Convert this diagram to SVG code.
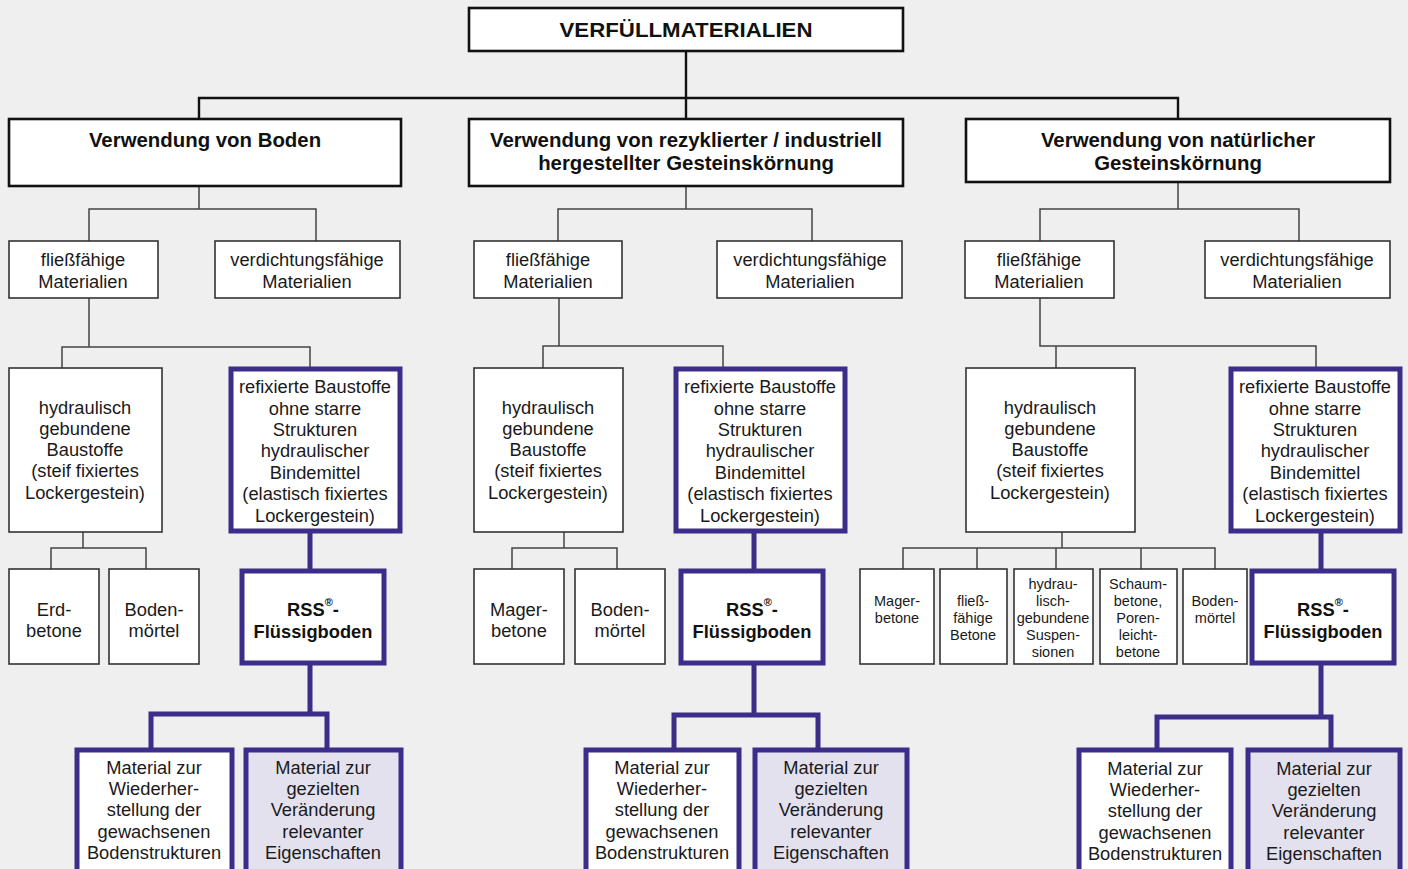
<svg xmlns="http://www.w3.org/2000/svg" width="1408" height="869" viewBox="0 0 1408 869">
<style>
text{font-family:"Liberation Sans",Arial,sans-serif;fill:#1a1a1a;text-anchor:middle;dominant-baseline:central}
.t{font-size:18.3px}
.s{font-size:14.5px}
.b{font-weight:bold;font-size:20.4px;fill:#111}
.rb{font-weight:bold;font-size:18.3px;fill:#111}
.h{fill:#fff;stroke:#111;stroke-width:2.6}
.n{fill:#fff;stroke:#333;stroke-width:1.6}
.p{fill:#fff;stroke:#3c2d8a;stroke-width:5}
.pf{fill:#e4e1ef;stroke:#3c2d8a;stroke-width:5}
.ck{fill:none;stroke:#111;stroke-width:2.4}
.cn{fill:none;stroke:#444;stroke-width:1.5}
.cp{fill:none;stroke:#3c2d8a;stroke-width:5}
</style>
<rect width="1408" height="869" fill="#efefef"/>
<g id="connectors">
<path class="ck" d="M686 51V98M199 119V98H1178V119M686 98V119"/>
<path class="cn" d="M199 186V209M89 241V209H316V241"/>
<path class="cn" d="M686 186V209M558 241V209H812V241"/>
<path class="cn" d="M1178 182V209M1040 241V209H1299V241"/>
<path class="cn" d="M89 298V347M62 368V347H310V368"/>
<path class="cn" d="M559 298V346M543 368V346H723V368"/>
<path class="cn" d="M1040 298V346H1316V368M1056 346V368"/>
<path class="cn" d="M83 532V548M51 569V548H146V569"/>
<path class="cn" d="M564 532V548M512 569V548H617V569"/>
<path class="cn" d="M1062 532V548M903 569V548H1215V569M977 548V569M1056 548V569M1141 548V569"/>
<path class="cp" d="M310 533V569M310 665V714M151 748V714H327V748"/>
<path class="cp" d="M754 533V569M754 665V715M674 748V715H818V748"/>
<path class="cp" d="M1321 533V569M1321 665V717M1157 748V717H1331V748"/>
</g>
<g id="root"><rect class="h" x="469" y="8" width="434" height="43"/><text class="b" x="686" y="29" style="font-size:21px" textLength="253" lengthAdjust="spacingAndGlyphs">VERFÜLLMATERIALIEN</text></g>
<g id="boden"><rect class="h" x="9" y="119" width="392" height="67"/><text class="b" x="205" y="140">Verwendung von Boden</text></g>
<g id="rezykliert"><rect class="h" x="469" y="119" width="434" height="67"/><text class="b" x="686" y="140">Verwendung von rezyklierter / industriell</text><text class="b" x="686" y="163">hergestellter Gesteinskörnung</text></g>
<g id="natuerlich"><rect class="h" x="966" y="119" width="424" height="63"/><text class="b" x="1178" y="140">Verwendung von natürlicher</text><text class="b" x="1178" y="163">Gesteinskörnung</text></g>

<g id="a-fliess"><rect class="n" x="9" y="241" width="149" height="57"/><text class="t" x="83" y="259">fließfähige</text><text class="t" x="83" y="281">Materialien</text></g>
<g id="a-verd"><rect class="n" x="215" y="241" width="185" height="57"/><text class="t" x="307" y="259">verdichtungsfähige</text><text class="t" x="307" y="281">Materialien</text></g>
<g id="b-fliess"><rect class="n" x="474" y="241" width="148" height="57"/><text class="t" x="548" y="259">fließfähige</text><text class="t" x="548" y="281">Materialien</text></g>
<g id="b-verd"><rect class="n" x="717" y="241" width="185" height="57"/><text class="t" x="810" y="259">verdichtungsfähige</text><text class="t" x="810" y="281">Materialien</text></g>
<g id="c-fliess"><rect class="n" x="965" y="241" width="149" height="57"/><text class="t" x="1039" y="259">fließfähige</text><text class="t" x="1039" y="281">Materialien</text></g>
<g id="c-verd"><rect class="n" x="1205" y="241" width="185" height="57"/><text class="t" x="1297" y="259">verdichtungsfähige</text><text class="t" x="1297" y="281">Materialien</text></g>

<g id="a-hydr"><rect class="n" x="9" y="368" width="153" height="164"/><text class="t" x="85" y="407">hydraulisch</text><text class="t" x="85" y="428">gebundene</text><text class="t" x="85" y="449">Baustoffe</text><text class="t" x="85" y="470">(steif fixiertes</text><text class="t" x="85" y="492">Lockergestein)</text></g>
<g id="b-hydr"><rect class="n" x="474" y="368" width="149" height="164"/><text class="t" x="548" y="407">hydraulisch</text><text class="t" x="548" y="428">gebundene</text><text class="t" x="548" y="449">Baustoffe</text><text class="t" x="548" y="470">(steif fixiertes</text><text class="t" x="548" y="492">Lockergestein)</text></g>
<g id="c-hydr"><rect class="n" x="966" y="368" width="169" height="164"/><text class="t" x="1050" y="407">hydraulisch</text><text class="t" x="1050" y="428">gebundene</text><text class="t" x="1050" y="449">Baustoffe</text><text class="t" x="1050" y="470">(steif fixiertes</text><text class="t" x="1050" y="492">Lockergestein)</text></g>

<g id="a-refix"><rect class="p" x="231" y="369" width="169" height="162"/><text class="t" x="315" y="386">refixierte Baustoffe</text><text class="t" x="315" y="408">ohne starre</text><text class="t" x="315" y="429">Strukturen</text><text class="t" x="315" y="450">hydraulischer</text><text class="t" x="315" y="472">Bindemittel</text><text class="t" x="315" y="493">(elastisch fixiertes</text><text class="t" x="315" y="515">Lockergestein)</text></g>
<g id="b-refix"><rect class="p" x="676" y="369" width="169" height="162"/><text class="t" x="760" y="386">refixierte Baustoffe</text><text class="t" x="760" y="408">ohne starre</text><text class="t" x="760" y="429">Strukturen</text><text class="t" x="760" y="450">hydraulischer</text><text class="t" x="760" y="472">Bindemittel</text><text class="t" x="760" y="493">(elastisch fixiertes</text><text class="t" x="760" y="515">Lockergestein)</text></g>
<g id="c-refix"><rect class="p" x="1231" y="369" width="169" height="162"/><text class="t" x="1315" y="386">refixierte Baustoffe</text><text class="t" x="1315" y="408">ohne starre</text><text class="t" x="1315" y="429">Strukturen</text><text class="t" x="1315" y="450">hydraulischer</text><text class="t" x="1315" y="472">Bindemittel</text><text class="t" x="1315" y="493">(elastisch fixiertes</text><text class="t" x="1315" y="515">Lockergestein)</text></g>

<g id="a-erd"><rect class="n" x="9" y="569" width="90" height="95"/><text class="t" x="54" y="609">Erd-</text><text class="t" x="54" y="630">betone</text></g>
<g id="a-boden"><rect class="n" x="109" y="569" width="90" height="95"/><text class="t" x="154" y="609">Boden-</text><text class="t" x="154" y="630">mörtel</text></g>
<g id="b-mager"><rect class="n" x="474" y="569" width="90" height="95"/><text class="t" x="519" y="609">Mager-</text><text class="t" x="519" y="630">betone</text></g>
<g id="b-boden"><rect class="n" x="575" y="569" width="90" height="95"/><text class="t" x="620" y="609">Boden-</text><text class="t" x="620" y="630">mörtel</text></g>
<g id="c-mager"><rect class="n" x="860" y="569" width="74" height="95"/><text class="s" x="897" y="601">Mager-</text><text class="s" x="897" y="618">betone</text></g>
<g id="c-fliess-betone"><rect class="n" x="940" y="569" width="67" height="95"/><text class="s" x="973" y="601">fließ-</text><text class="s" x="973" y="618">fähige</text><text class="s" x="973" y="635">Betone</text></g>
<g id="c-susp"><rect class="n" x="1014" y="569" width="79" height="95"/><text class="s" x="1053" y="584">hydrau-</text><text class="s" x="1053" y="601">lisch-</text><text class="s" x="1053" y="618">gebundene</text><text class="s" x="1053" y="635">Suspen-</text><text class="s" x="1053" y="652">sionen</text></g>
<g id="c-schaum"><rect class="n" x="1100" y="569" width="77" height="95"/><text class="s" x="1138" y="584">Schaum-</text><text class="s" x="1138" y="601">betone,</text><text class="s" x="1138" y="618">Poren-</text><text class="s" x="1138" y="635">leicht-</text><text class="s" x="1138" y="652">betone</text></g>
<g id="c-boden"><rect class="n" x="1183" y="569" width="64" height="95"/><text class="s" x="1215" y="601">Boden-</text><text class="s" x="1215" y="618">mörtel</text></g>

<g id="a-rss"><rect class="p" x="242" y="571" width="142" height="92"/><text class="rb" x="313" y="609">RSS<tspan dy="-7" style="font-size:11px">®</tspan><tspan dy="7">-</tspan></text><text class="rb" x="313" y="631">Flüssigboden</text></g>
<g id="b-rss"><rect class="p" x="681" y="571" width="142" height="92"/><text class="rb" x="752" y="609">RSS<tspan dy="-7" style="font-size:11px">®</tspan><tspan dy="7">-</tspan></text><text class="rb" x="752" y="631">Flüssigboden</text></g>
<g id="c-rss"><rect class="p" x="1252" y="571" width="142" height="92"/><text class="rb" x="1323" y="609">RSS<tspan dy="-7" style="font-size:11px">®</tspan><tspan dy="7">-</tspan></text><text class="rb" x="1323" y="631">Flüssigboden</text></g>

<g id="a-wieder"><rect class="p" x="77" y="750" width="155" height="130"/><text class="t" x="154" y="767">Material zur</text><text class="t" x="154" y="788">Wiederher-</text><text class="t" x="154" y="809">stellung der</text><text class="t" x="154" y="831">gewachsenen</text><text class="t" x="154" y="852">Bodenstrukturen</text></g>
<g id="a-gezielt"><rect class="pf" x="246" y="750" width="155" height="130"/><text class="t" x="323" y="767">Material zur</text><text class="t" x="323" y="788">gezielten</text><text class="t" x="323" y="809">Veränderung</text><text class="t" x="323" y="831">relevanter</text><text class="t" x="323" y="852">Eigenschaften</text></g>
<g id="b-wieder"><rect class="p" x="586" y="750" width="153" height="130"/><text class="t" x="662" y="767">Material zur</text><text class="t" x="662" y="788">Wiederher-</text><text class="t" x="662" y="809">stellung der</text><text class="t" x="662" y="831">gewachsenen</text><text class="t" x="662" y="852">Bodenstrukturen</text></g>
<g id="b-gezielt"><rect class="pf" x="755" y="750" width="152" height="130"/><text class="t" x="831" y="767">Material zur</text><text class="t" x="831" y="788">gezielten</text><text class="t" x="831" y="809">Veränderung</text><text class="t" x="831" y="831">relevanter</text><text class="t" x="831" y="852">Eigenschaften</text></g>
<g id="c-wieder"><rect class="p" x="1079" y="750" width="152" height="130"/><text class="t" x="1155" y="768">Material zur</text><text class="t" x="1155" y="789">Wiederher-</text><text class="t" x="1155" y="810">stellung der</text><text class="t" x="1155" y="832">gewachsenen</text><text class="t" x="1155" y="853">Bodenstrukturen</text></g>
<g id="c-gezielt"><rect class="pf" x="1248" y="750" width="152" height="130"/><text class="t" x="1324" y="768">Material zur</text><text class="t" x="1324" y="789">gezielten</text><text class="t" x="1324" y="810">Veränderung</text><text class="t" x="1324" y="832">relevanter</text><text class="t" x="1324" y="853">Eigenschaften</text></g>
</svg>
